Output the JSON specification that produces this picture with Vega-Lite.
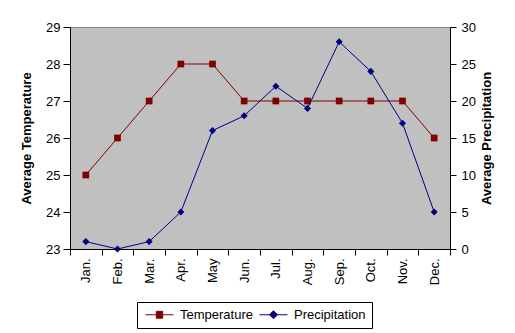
{
  "$schema": "https://vega.github.io/schema/vega-lite/v6.json",
  "width": 380,
  "height": 222,
  "autosize": {"type": "none"},
  "padding": {"left": 70, "top": 27, "right": 65, "bottom": 84},
  "background": "white",
  "config": {
    "font": "Liberation Sans",
    "view": {"fill": "#C0C0C0", "stroke": "#808080", "strokeWidth": 1},
    "axis": {
      "grid": false,
      "domainColor": "#000000",
      "tickColor": "#000000",
      "labelColor": "#000000",
      "titleColor": "#000000",
      "labelFontSize": 13,
      "titleFontSize": 13,
      "titleFontWeight": "bold",
      "tickSize": 7,
      "labelPadding": 3
    }
  },
  "data": {
    "values": [
      {"month": "Jan.", "series": "Temperature", "value": 25},
      {"month": "Feb.", "series": "Temperature", "value": 26},
      {"month": "Mar.", "series": "Temperature", "value": 27},
      {"month": "Apr.", "series": "Temperature", "value": 28},
      {"month": "May", "series": "Temperature", "value": 28},
      {"month": "Jun.", "series": "Temperature", "value": 27},
      {"month": "Jul.", "series": "Temperature", "value": 27},
      {"month": "Aug.", "series": "Temperature", "value": 27},
      {"month": "Sep.", "series": "Temperature", "value": 27},
      {"month": "Oct.", "series": "Temperature", "value": 27},
      {"month": "Nov.", "series": "Temperature", "value": 27},
      {"month": "Dec.", "series": "Temperature", "value": 26},
      {"month": "Jan.", "series": "Precipitation", "value": 1},
      {"month": "Feb.", "series": "Precipitation", "value": 0},
      {"month": "Mar.", "series": "Precipitation", "value": 1},
      {"month": "Apr.", "series": "Precipitation", "value": 5},
      {"month": "May", "series": "Precipitation", "value": 16},
      {"month": "Jun.", "series": "Precipitation", "value": 18},
      {"month": "Jul.", "series": "Precipitation", "value": 22},
      {"month": "Aug.", "series": "Precipitation", "value": 19},
      {"month": "Sep.", "series": "Precipitation", "value": 28},
      {"month": "Oct.", "series": "Precipitation", "value": 24},
      {"month": "Nov.", "series": "Precipitation", "value": 17},
      {"month": "Dec.", "series": "Precipitation", "value": 5}
    ]
  },
  "encoding": {
    "x": {
      "field": "month",
      "type": "nominal",
      "sort": null,
      "scale": {"type": "band", "paddingInner": 0, "paddingOuter": 0},
      "axis": {"title": null, "labelAngle": -90, "tickBand": "extent", "tickSize": 6, "labelPadding": 3}
    },
    "color": {
      "field": "series",
      "type": "nominal",
      "scale": {"domain": ["Temperature", "Precipitation"], "range": ["#800000", "#000080"]},
      "legend": {
        "orient": "none",
        "legendX": 67,
        "legendY": 275,
        "direction": "horizontal",
        "title": null,
        "strokeColor": "#000000",
        "padding": 6,
        "symbolSize": 64,
        "labelFontSize": 13,
        "labelColor": "#000000",
        "columnPadding": 4,
        "labelOffset": 24,
        "encode": {
          "symbols": {
            "update": {
              "shape": {"signal": "datum.value === 'Temperature' ? 'M-1,0H6M1.7,-0.85H3.3V0.85H1.7Z' : 'M-1,0H6M2.5,-1L3.5,0L2.5,1L1.5,0Z'"},
              "stroke": {"signal": "datum.value === 'Temperature' ? '#800000' : '#000080'"},
              "fill": {"signal": "datum.value === 'Temperature' ? '#800000' : '#000080'"},
              "strokeWidth": {"value": 1},
              "opacity": {"value": 1}
            }
          }
        }
      }
    }
  },
  "layer": [
    {
      "transform": [{"filter": "datum.series === 'Temperature'"}],
      "encoding": {
        "y": {
          "field": "value",
          "type": "quantitative",
          "scale": {"domain": [23, 29], "nice": false, "zero": false},
          "axis": {"orient": "left", "title": "Average Temperature", "values": [23, 24, 25, 26, 27, 28, 29], "titlePadding": 12, "labelPadding": 3}
        }
      },
      "layer": [
        {"mark": {"type": "line", "strokeWidth": 1}},
        {"mark": {"type": "point", "shape": "square", "filled": true, "size": 45, "opacity": 1}}
      ]
    },
    {
      "transform": [{"filter": "datum.series === 'Precipitation'"}],
      "encoding": {
        "y": {
          "field": "value",
          "type": "quantitative",
          "scale": {"domain": [0, 30], "nice": false},
          "axis": {"orient": "right", "title": "Average Precipitation", "values": [0, 5, 10, 15, 20, 25, 30], "titlePadding": 5, "titleAngle": 270, "titleBaseline": "top", "tickSize": 6, "labelPadding": 5}
        }
      },
      "layer": [
        {"mark": {"type": "line", "strokeWidth": 1}},
        {"mark": {"type": "point", "shape": "diamond", "filled": true, "size": 50, "opacity": 1}}
      ]
    }
  ],
  "resolve": {"scale": {"y": "independent"}}
}
